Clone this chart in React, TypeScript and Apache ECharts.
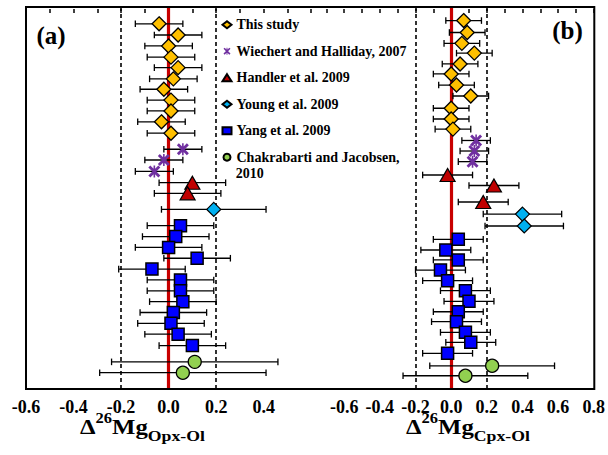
import React, { useEffect, useRef } from 'react';
import * as echarts from 'echarts';

const FONT = 'Liberation Serif';

const groupNames = [
  'This study',
  'Wiechert and Halliday, 2007',
  'Handler et al. 2009',
  'Young et al. 2009',
  'Yang et al. 2009',
  'Chakrabarti and Jacobsen, 2010',
];

// ---------- Panel (a): Δ26Mg Opx-Ol ----------
const opxThis = [-0.04, 0.04, 0.0, 0.01, 0.04, 0.02, -0.02, 0.01, 0.01, -0.03, 0.01];
const opxThisErr = [0.1, 0.1, 0.1, 0.1, 0.1, 0.1, 0.1, 0.1, 0.1, 0.1, 0.1];
const opxThisRow = [1, 2.03, 3.04, 4.07, 5.04, 6.07, 7.03, 8.03, 9.03, 10.03, 11.08];

const opxWiechert = [0.06, -0.02, -0.06];
const opxWiechertErr = [0.08, 0.08, 0.08];
const opxWiechertRow = [12.56, 13.55, 14.6];

const opxHandler = [0.1, 0.08];
const opxHandlerErr = [0.14, 0.14];
const opxHandlerRow = [15.64, 16.62];

const opxYoung = [0.19];
const opxYoungErr = [0.22];
const opxYoungRow = [18.1];

const opxYang = [0.05, 0.03, 0.0, 0.12, -0.07, 0.05, 0.05, 0.06, 0.02, 0.01, 0.04, 0.1];
const opxYangErr = [0.14, 0.14, 0.14, 0.14, 0.14, 0.14, 0.14, 0.14, 0.14, 0.14, 0.14, 0.14];
const opxYangRow = [19.6, 20.6, 21.6, 22.6, 23.6, 24.6, 25.6, 26.6, 27.6, 28.6, 29.6, 30.65];

const opxChak = [0.11, 0.06];
const opxChakErr = [0.35, 0.35];
const opxChakRow = [32.15, 33.15];

// ---------- Panel (b): Δ26Mg Cpx-Ol ----------
const cpxThis = [0.07, 0.09, 0.06, 0.13, 0.05, 0.0, 0.03, 0.11, 0.0, 0.0, 0.01];
const cpxThisErr = [0.1, 0.1, 0.1, 0.1, 0.1, 0.1, 0.1, 0.1, 0.1, 0.1, 0.1];
const cpxThisRow = [0.7, 1.8, 2.8, 3.7, 4.7, 5.62, 6.64, 7.65, 8.78, 9.77, 10.7];

const cpxWiechert = [0.14, 0.13, 0.12];
const cpxWiechertErr = [0.08, 0.08, 0.08];
const cpxWiechertRow = [11.75, 12.72, 13.7];

const cpxHandler = [-0.02, 0.24, 0.18];
const cpxHandlerErr = [0.14, 0.14, 0.14];
const cpxHandlerRow = [14.93, 15.9, 17.42];

const cpxYoung = [0.4, 0.41];
const cpxYoungErr = [0.22, 0.22];
const cpxYoungRow = [18.53, 19.63];

const cpxYang = [0.04, -0.03, 0.04, -0.06, -0.02, 0.08, 0.1, 0.04, 0.03, 0.08, 0.11, -0.02];
const cpxYangErr = [0.14, 0.14, 0.14, 0.14, 0.14, 0.14, 0.14, 0.14, 0.14, 0.14, 0.14, 0.14];
const cpxYangRow = [20.86, 21.84, 22.76, 23.69, 24.67, 25.59, 26.57, 27.53, 28.45, 29.43, 30.35, 31.36];

const cpxChak = [0.23, 0.08];
const cpxChakErr = [0.35, 0.35];
const cpxChakRow = [32.51, 33.43];

// axis tick labels
const opxTickLabels = [-0.6, -0.4, -0.2, 0.0, 0.2, 0.4];
const cpxTickLabels = [-0.6, -0.4, -0.2, 0.0, 0.2, 0.4, 0.6, 0.8];

const X_MARK =
  'path://M0,2 L2,0 L12,10 L10,12 Z M10,0 L12,2 L2,12 L0,10 Z M5.2,0 L6.8,0 L6.8,12 L5.2,12 Z';

const groupStyles = [
  { symbol: 'diamond', size: [14, 14], color: '#FFC000', border: 1.3 },
  { symbol: X_MARK, size: [12, 12], color: '#7030A0', border: 0 },
  { symbol: 'triangle', size: [15, 13], color: '#C00000', border: 1.2 },
  { symbol: 'diamond', size: [14, 14], color: '#00B0F0', border: 1.2 },
  { symbol: 'rect', size: [12, 12], color: '#0000FF', border: 1.5 },
  { symbol: 'circle', size: [13, 13], color: '#92D050', border: 1.3 },
];

const panelA = [
  [opxThis, opxThisErr, opxThisRow],
  [opxWiechert, opxWiechertErr, opxWiechertRow],
  [opxHandler, opxHandlerErr, opxHandlerRow],
  [opxYoung, opxYoungErr, opxYoungRow],
  [opxYang, opxYangErr, opxYangRow],
  [opxChak, opxChakErr, opxChakRow],
];
const panelB = [
  [cpxThis, cpxThisErr, cpxThisRow],
  [cpxWiechert, cpxWiechertErr, cpxWiechertRow],
  [cpxHandler, cpxHandlerErr, cpxHandlerRow],
  [cpxYoung, cpxYoungErr, cpxYoungRow],
  [cpxYang, cpxYangErr, cpxYangRow],
  [cpxChak, cpxChakErr, cpxChakRow],
];

function errRender(params: any, api: any) {
  const x = api.value(0);
  const y = api.value(1);
  const e = api.value(2);
  const p0 = api.coord([x - e, y]);
  const p1 = api.coord([x + e, y]);
  const h = 3.3;
  const st = { stroke: '#000', lineWidth: 1.3 };
  return {
    type: 'group',
    children: [
      { type: 'line', shape: { x1: p0[0], y1: p0[1], x2: p1[0], y2: p1[1] }, style: st },
      { type: 'line', shape: { x1: p0[0], y1: p0[1] - h, x2: p0[0], y2: p0[1] + h }, style: st },
      { type: 'line', shape: { x1: p1[0], y1: p1[1] - h, x2: p1[0], y2: p1[1] + h }, style: st },
    ],
  };
}

function buildSeries(panel: any[], idx: number) {
  const out: any[] = [];
  panel.forEach((g, gi) => {
    const [vals, errs, rows] = g;
    const s = groupStyles[gi];
    const errSeries: any = {
      type: 'custom',
      name: 'err-' + idx + '-' + gi,
      xAxisIndex: idx,
      yAxisIndex: idx,
      renderItem: errRender,
      encode: { x: 0, y: 1 },
      data: vals.map((v: number, i: number) => [v, rows[i], errs[i]]),
      z: 3,
      silent: true,
    };
    if (gi === 0) {
      errSeries.markLine = {
        silent: true,
        symbol: ['none', 'none'],
        label: { show: false },
        z: 1,
        data: [
          { xAxis: -0.2, lineStyle: { color: '#000', width: 1.6, type: [4, 3] } },
          { xAxis: 0.2, lineStyle: { color: '#000', width: 1.6, type: [4, 3] } },
          { xAxis: 0, lineStyle: { color: '#C80000', width: 3.2, type: 'solid' } },
        ],
      };
    }
    out.push(errSeries);
    out.push({
      type: 'scatter',
      name: groupNames[gi],
      xAxisIndex: idx,
      yAxisIndex: idx,
      symbol: s.symbol,
      symbolSize: s.size,
      itemStyle: { color: s.color, borderColor: '#000', borderWidth: s.border, opacity: 1 },
      data: vals.map((v: number, i: number) => [v, rows[i]]),
      z: 4,
      silent: true,
    });
  });
  return out;
}

function xAxisFor(idx: number, min: number, max: number, labels: number[]) {
  return {
    type: 'value',
    gridIndex: idx,
    min,
    max,
    interval: 0.1,
    axisLine: { show: false },
    splitLine: { show: false },
    axisTick: { show: true, inside: true, length: 4, lineStyle: { color: '#000', width: 1.5 } },
    axisLabel: {
      show: true,
      margin: 9,
      color: '#000',
      showMinLabel: true,
      showMaxLabel: true,
      formatter: (v: number) => {
        const k = Math.round(v * 10);
        const hit = labels.find((l) => Math.round(l * 10) === k);
        return hit === undefined ? '' : '{t|' + hit.toFixed(1) + '}';
      },
      rich: {
        t: { fontFamily: FONT, fontWeight: 'bold', fontSize: 18, color: '#000' },
      },
    },
  };
}

function yAxisFor(idx: number) {
  return {
    type: 'value',
    gridIndex: idx,
    min: -0.55,
    max: 34.65,
    inverse: true,
    show: false,
  };
}

function titleRich() {
  return {
    m: { fontSize: 21, lineHeight: 32, fontFamily: FONT, fontWeight: 'bold', fill: '#000', verticalAlign: 'middle' },
    s: { fontSize: 14, lineHeight: 14, fontFamily: FONT, fontWeight: 'bold', fill: '#000', verticalAlign: 'top' },
    b: { fontSize: 15, lineHeight: 15, fontFamily: FONT, fontWeight: 'bold', fill: '#000', verticalAlign: 'bottom' },
  };
}

export default function App() {
  const ref = useRef<HTMLDivElement>(null);
  useEffect(() => {
    if (!ref.current) return;
    const chart = echarts.init(ref.current, null, { renderer: 'svg' });
    const option: any = {
      animation: false,
      backgroundColor: '#fff',
      textStyle: { fontFamily: FONT },
      grid: [
        { left: 26, top: 7, width: 285.2, height: 382 },
        { left: 326.4, top: 7, width: 268.6, height: 382 },
      ],
      xAxis: [xAxisFor(0, -0.6, 0.6, opxTickLabels), xAxisFor(1, -0.7, 0.8, cpxTickLabels)],
      yAxis: [yAxisFor(0), yAxisFor(1)],
      legend: {
        data: groupNames,
        orient: 'vertical',
        left: 221.5,
        top: 17.7,
        padding: 0,
        itemWidth: 9,
        itemHeight: 7,
        itemGap: 12.5,
        selectedMode: false,
        textStyle: { fontFamily: FONT, fontWeight: 'bold', fontSize: 14, lineHeight: 14, color: '#000' },
        formatter: (name: string) => (name === groupNames[5] ? 'Chakrabarti and Jacobsen,' : name),
      },
      series: [...buildSeries(panelA, 0), ...buildSeries(panelB, 1)],
      graphic: [
        {
          type: 'rect',
          silent: true,
          z: 10,
          shape: { x: 26, y: 7, width: 568.3, height: 382 },
          style: { fill: 'none', stroke: '#000', lineWidth: 2 },
        },
        {
          type: 'text',
          x: 51,
          y: 35,
          z: 10,
          style: { text: '(a)', fontFamily: FONT, fontWeight: 'bold', fontSize: 25, fill: '#000', align: 'center', verticalAlign: 'middle' },
        },
        {
          type: 'text',
          x: 567.5,
          y: 30,
          z: 10,
          style: { text: '(b)', fontFamily: FONT, fontWeight: 'bold', fontSize: 25, fill: '#000', align: 'center', verticalAlign: 'middle' },
        },
        {
          type: 'text',
          x: 235.7,
          y: 173.3,
          z: 10,
          style: { text: '2010', fontFamily: FONT, fontWeight: 'bold', fontSize: 14, fill: '#000', align: 'left', verticalAlign: 'middle' },
        },
        {
          type: 'text',
          x: 80,
          y: 411,
          scaleX: 1.18,
          z: 10,
          style: { text: '{m|Δ}{s|26}{m|Mg}{b|Opx-Ol}', rich: titleRich(), align: 'left', verticalAlign: 'top' },
        },
        {
          type: 'text',
          x: 406,
          y: 411,
          scaleX: 1.18,
          z: 10,
          style: { text: '{m|Δ}{s|26}{m|Mg}{b|Cpx-Ol}', rich: titleRich(), align: 'left', verticalAlign: 'top' },
        },
      ],
    };
    chart.setOption(option);
    return () => chart.dispose();
  }, []);
  return (
    <div
      ref={ref}
      style={{ position: 'absolute', left: 0, top: 0, width: 608, height: 455, background: '#fff' }}
    />
  );
}
